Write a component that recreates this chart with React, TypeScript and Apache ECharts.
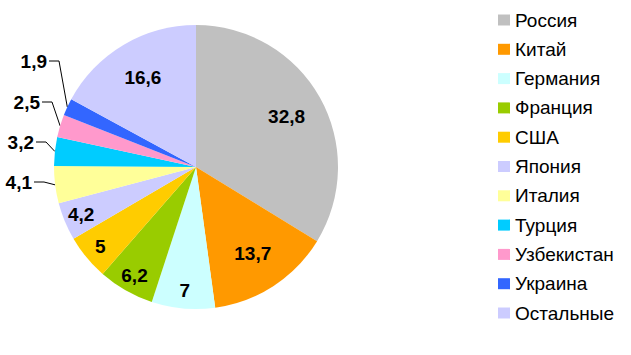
import React, { useEffect, useRef } from "react";
import * as echarts from "echarts";

const categories = ["Россия", "Китай", "Германия", "Франция", "США", "Япония", "Италия", "Турция", "Узбекистан", "Украина", "Остальные"];
const values = [32.8, 13.7, 7, 6.2, 5, 4.2, 4.1, 3.2, 2.5, 1.9, 16.6];
const colors = ["#C0C0C0", "#FF9900", "#CCFFFF", "#99CC00", "#FFCC00", "#CCCCFF", "#FFFF99", "#00CCFF", "#FF99CC", "#3366FF", "#CCCCFF"];

// which labels go where
const bigInside = [0, 1, 10];
const smallInside = [2, 3, 4, 5];
const outside = [6, 7, 8, 9];

// layout of outside labels (right edge x, middle y)
const outsideAnchor: Record<number, [number, number]> = {
  6: [32, 182],
  7: [34, 142],
  8: [40, 102],
  9: [47, 61],
};

const FONT = 'Arial, "Liberation Sans", sans-serif';
const CENTER = [196, 167];
const R = 142;

const fmt = (p: any) => String(p.value).replace(".", ",");

export default function App() {
  const ref = useRef<HTMLDivElement>(null);
  useEffect(() => {
    document.body.style.margin = "0";
    const chart = echarts.init(ref.current!, undefined, { renderer: "svg" });
    const labelStyle = {
      color: "#000",
      fontFamily: FONT,
      fontWeight: "bold" as const,
      fontSize: 19,
      formatter: fmt,
    };
    chart.setOption({
      animation: false,
      backgroundColor: "#fff",
      legend: {
        orient: "vertical",
        left: 498,
        top: 10.5,
        padding: 0,
        itemWidth: 12,
        itemHeight: 11,
        itemGap: 10.3,
        icon: "rect",
        selectedMode: false,
        textStyle: { fontFamily: FONT, fontSize: 19, lineHeight: 19, color: "#000" },
        data: categories.map((c, i) => ({ name: c, itemStyle: { color: colors[i] } })),
      },
      series: [
        {
          type: "pie",
          center: CENTER,
          radius: R,
          startAngle: 90,
          clockwise: true,
          silent: true,
          label: { show: false },
          labelLine: { show: false },
          itemStyle: { borderWidth: 0 },
          data: categories.map((c, i) => ({ name: c, value: values[i], itemStyle: { color: colors[i] } })),
        },
        {
          type: "pie",
          center: CENTER,
          radius: [R * 0.42, R],
          startAngle: 90,
          clockwise: true,
          silent: true,
          avoidLabelOverlap: false,
          itemStyle: { color: "rgba(0,0,0,0)", borderWidth: 0 },
          label: { ...labelStyle, position: "inside" },
          labelLine: { show: false },
          data: categories.map((c, i) => ({
            name: c,
            value: values[i],
            label: { show: bigInside.includes(i) },
          })),
        },
        {
          type: "pie",
          center: CENTER,
          radius: [R * 0.71, R],
          startAngle: 90,
          clockwise: true,
          silent: true,
          avoidLabelOverlap: false,
          itemStyle: { color: "rgba(0,0,0,0)", borderWidth: 0 },
          label: { ...labelStyle },
          labelLine: { show: false, length: 8, length2: 10, lineStyle: { color: "#000", width: 1 } },
          labelLayout: (params: any) => {
            const a = outsideAnchor[params.dataIndex];
            if (!a || !params.labelLinePoints) return {};
            const [x, y] = a;
            return {
              x,
              y,
              align: "right",
              verticalAlign: "middle",
              labelLinePoints: [params.labelLinePoints[0], [x + 12, y], [x + 2, y]],
            };
          },
          data: categories.map((c, i) => {
            const out = outside.includes(i);
            return {
              name: c,
              value: values[i],
              label: { show: out || smallInside.includes(i), position: out ? "outside" : "inside" },
              labelLine: { show: out },
            };
          }),
        },
      ],
    });
    return () => chart.dispose();
  }, []);
  return <div ref={ref} style={{ width: 631, height: 355 }} />;
}
